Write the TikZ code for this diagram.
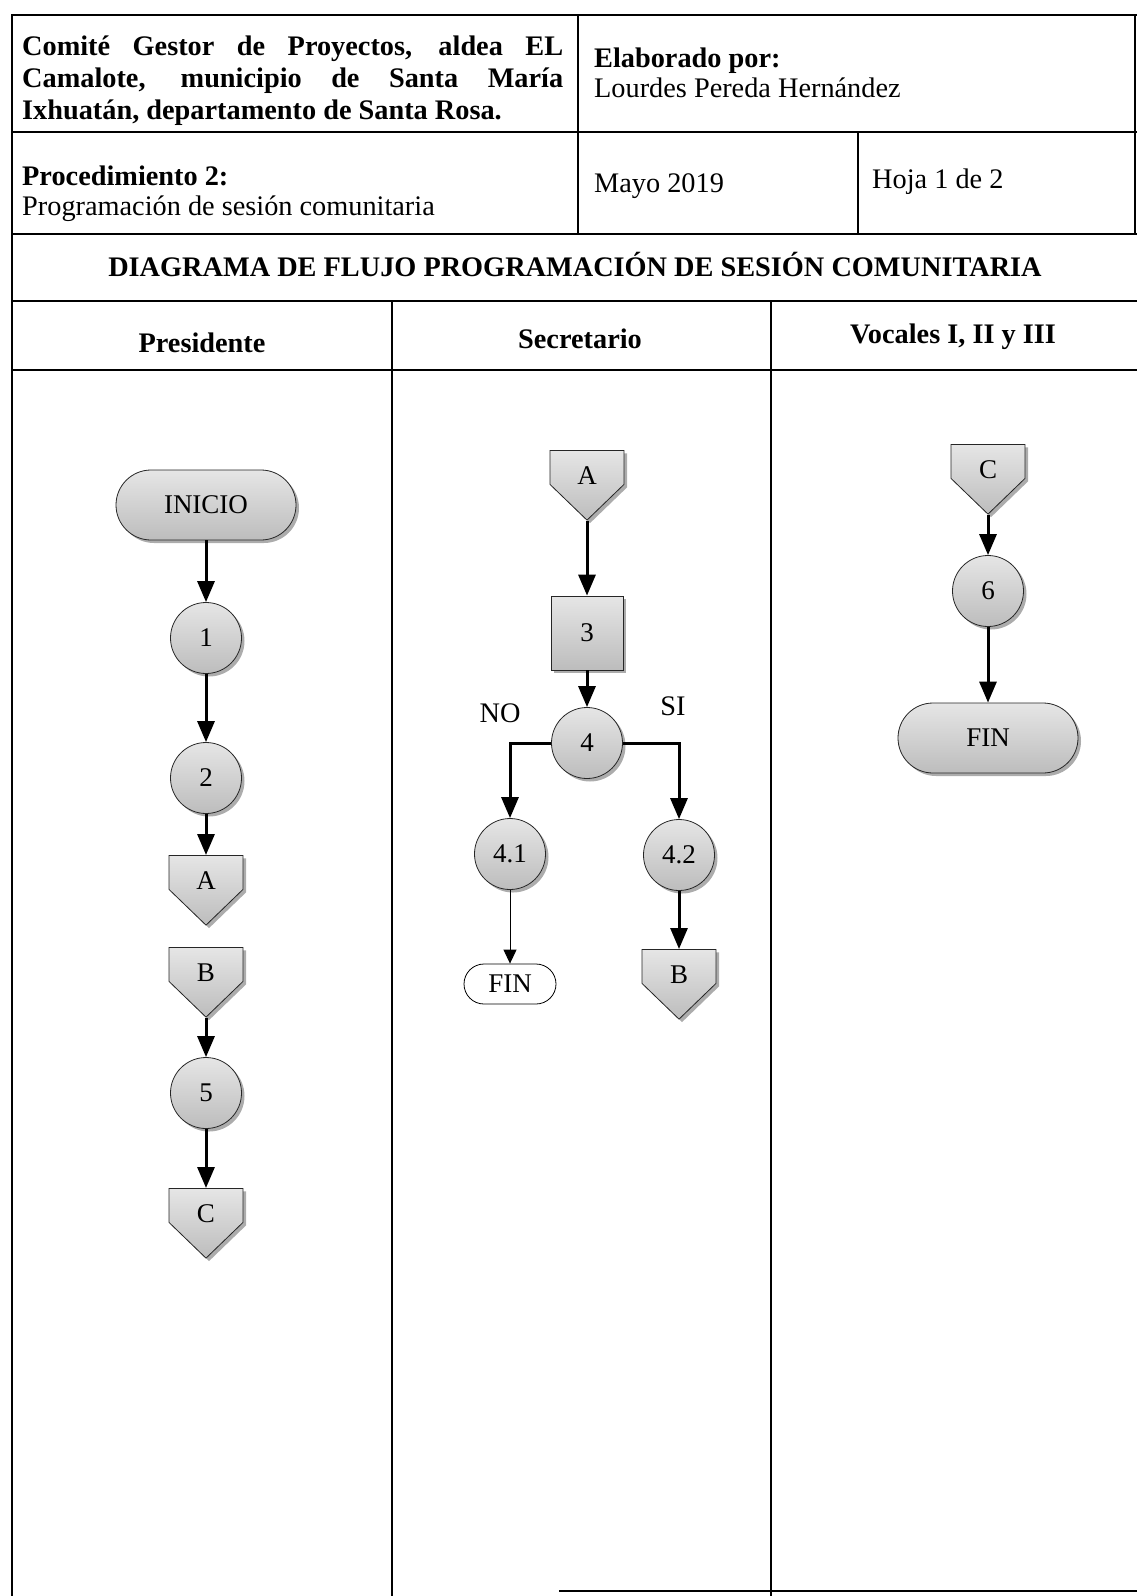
\documentclass[tikz,border=0pt]{standalone}
\usepackage{fontspec}
\setmainfont{Liberation Serif}
\usetikzlibrary{arrows.meta,shapes.misc,shapes.symbols,shadows}
\begin{document}
\begin{tikzpicture}[x=1pt,y=-1pt,
  txt/.style={font=\fontsize{28.3}{32.5}\selectfont, inner sep=0pt},
  txtb/.style={font=\fontsize{28.3}{32.5}\selectfont\bfseries, inner sep=0pt},
  frame/.style={line width=1.7pt, line cap=rect},
  fillshade/.style={draw=black!85, line width=0.8pt, top color=gray!20, bottom color=gray!52,
     drop shadow={shadow xshift=3pt, shadow yshift=-3pt, fill=gray!65, opacity=1}},
  shapetext/.style={font=\fontsize{27}{30}\selectfont, inner sep=0pt},
  terminal/.style={fillshade, shapetext, rounded rectangle, minimum width=180pt, minimum height=70pt},
  activity/.style={fillshade, shapetext, circle, minimum size=71pt},
  taskbox/.style={fillshade, shapetext, rectangle, minimum width=72pt, minimum height=74pt},
  offpage/.style={fillshade, shapetext, signal, signal to=south, signal pointer angle=92,
     minimum width=74pt, minimum height=38pt, text height=34pt, text depth=0pt},
  endsmall/.style={draw=black, line width=0.8pt, fill=white, shapetext, rounded rectangle,
     minimum width=92pt, minimum height=40pt},
  flow/.style={line width=3pt, -{Triangle[length=21pt,width=17pt]}},
  thinflow/.style={line width=1pt, -{Triangle[length=14pt,width=13pt]}},
]
\useasboundingbox (0,0) rectangle (1137,1596);

% table frame
\draw[frame] (1137,15) -- (12,15) -- (12,1596);
\draw[frame] (1135,15) -- (1135,234);
\draw[frame] (12,132) -- (1137,132);
\draw[frame] (12,234) -- (1137,234);
\draw[frame] (12,301) -- (1137,301);
\draw[frame] (12,370) -- (1137,370);
\draw[frame] (560,1591) -- (1137,1591);
\draw[frame] (578,15) -- (578,234);
\draw[frame] (858,132) -- (858,234);
\draw[frame] (392,301) -- (392,1596);
\draw[frame] (771,301) -- (771,1596);

% header texts
\node[txtb, anchor=base west] (h1) at (22,55) {\makebox[541pt][s]{Comité Gestor de Proyectos, aldea EL}};
\node[txtb, anchor=base west] (h2) at (22,87) {\makebox[541pt][s]{Camalote, municipio de Santa María}};
\node[txtb, anchor=base west] (h3) at (22,119) {Ixhuatán, departamento de Santa Rosa.};
\node[txtb, anchor=base west] (elab) at (594,67) {Elaborado por:};
\node[txt, anchor=base west] (autor) at (594,97) {Lourdes Pereda Hernández};
\node[txtb, anchor=base west] (proc) at (22,185) {Procedimiento 2:};
\node[txt, anchor=base west] (procn) at (22,215) {Programación de sesión comunitaria};
\node[txt, anchor=base west] (fecha) at (594,192) {Mayo 2019};
\node[txt, anchor=base west] (hoja) at (872,188) {Hoja 1 de 2};
\node[txtb, anchor=base] (titulo) at (575,276) {DIAGRAMA DE FLUJO PROGRAMACIÓN DE SESIÓN COMUNITARIA};
\node[txtb, anchor=base] (lane1) at (202,352) {Presidente};
\node[txtb, anchor=base] (lane2) at (580,348) {Secretario};
\node[txtb, anchor=base] (lane3) at (953,343) {Vocales I, II y III};

% Presidente
\node[terminal] (ini) at (206,505) {INICIO};
\node[activity] (p1) at (206,638) {1};
\node[activity] (p2) at (206,778) {2};
\node[offpage, anchor=north] (a1) at (206,855) {A};
\node[offpage, anchor=north] (b1) at (206,947) {B};
\node[activity] (p5) at (206,1093) {5};
\node[offpage, anchor=north] (c1) at (206,1188) {C};
\draw[flow] (ini.south) -- (p1.north);
\draw[flow] (p1.south) -- (p2.north);
\draw[flow] (p2.south) -- (a1.north);
\draw[flow] (b1.south) -- (p5.north);
\draw[flow] (p5.south) -- (c1.north);

% Secretario
\node[offpage, anchor=north] (a2) at (587,450) {A};
\node[taskbox] (p3) at (587,633) {3};
\node[activity] (p4) at (587,743) {4};
\node[activity] (p41) at (510,854) {4.1};
\node[activity] (p42) at (679,855) {4.2};
\node[endsmall] (fin2) at (510,984) {FIN};
\node[offpage, anchor=north] (b2) at (679,949) {B};
\node[txt] (no) at (500,713) {NO};
\node[txt] (si) at (673,706) {SI};
\draw[flow] (a2.south) -- (p3.north);
\draw[flow] (p3.south) -- (p4.north);
\draw[flow] (p4.west) -| (p41.north);
\draw[flow] (p4.east) -| (p42.north);
\draw[thinflow] (p41.south) -- (fin2.north);
\draw[flow] (p42.south) -- (b2.north);

% Vocales
\node[offpage, anchor=north] (c3) at (988,444) {C};
\node[activity] (p6) at (988,591) {6};
\node[terminal] (fin3) at (988,738) {FIN};
\draw[flow] (c3.south) -- (p6.north);
\draw[flow] (p6.south) -- (fin3.north);
\end{tikzpicture}
\end{document}
